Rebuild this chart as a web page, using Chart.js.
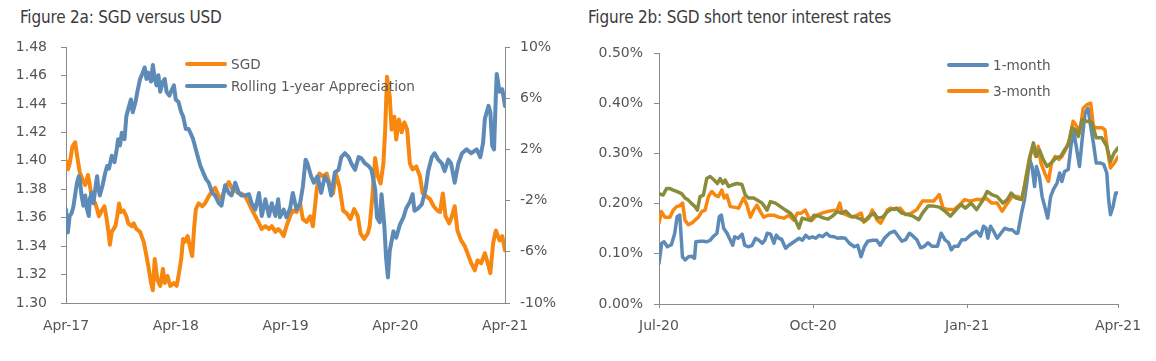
<!DOCTYPE html>
<html>
<head>
<meta charset="utf-8">
<script src="https://cdn.jsdelivr.net/npm/chart.js@4.4.1/dist/chart.umd.min.js"></script>
<style>
  body { margin: 0; background: #fff; width: 1156px; height: 361px; overflow: hidden; position: relative; }
  .title { position: absolute; top: 7px; font: 17px "Liberation Sans Narrow", "DejaVu Sans Condensed", sans-serif; letter-spacing: -0.2px; color: #3c3c3c; white-space: nowrap; }
  .box { position: absolute; top: 0; height: 361px; }
  .legend { position: absolute; font: 13.6px "DejaVu Sans", sans-serif; color: #595959; }
  .legend .row { display: flex; align-items: center; white-space: nowrap; }
  .legend .line { display: inline-block; width: 42px; height: 4px; border-radius: 2px; margin-right: 4px; }
</style>
</head>
<body>
<div class="title" style="left:20px">Figure 2a: SGD versus USD</div>
<div class="title" style="left:588px">Figure 2b: SGD short tenor interest rates</div>
<div class="box" style="left:0;width:560px"><canvas id="chartA"></canvas></div>
<div class="box" style="left:578px;width:578px"><canvas id="chartB"></canvas></div>
<div class="legend" id="legendA" style="left:185px;top:53px"></div>
<div class="legend" id="legendB" style="left:947px;top:52px"></div>

<script>
// ---- Figure 2a: SGD versus USD (x = months since Apr-17) ----
const xLabelsA = ['Apr-17', 'Apr-18', 'Apr-19', 'Apr-20', 'Apr-21'];
const xTicksA = [0, 12, 24, 36, 48];
const sgdTicks = [1.30, 1.32, 1.34, 1.36, 1.38, 1.40, 1.42, 1.44, 1.46, 1.48];
const apprTicks = [-10, -6, -2, 2, 6, 10];

const sgdMonths = [0, 0.2, 0.4, 0.7, 1.0, 1.2, 1.5, 1.8, 2.1, 2.4, 2.6, 2.8, 3.2, 3.4, 3.6, 3.9, 4.2, 4.4, 4.6, 4.8,
  5.0, 5.4, 5.6, 5.8, 6.0, 6.3, 6.6, 6.8, 7.2, 7.4, 7.7, 8.1, 8.5, 8.8, 9.0, 9.3, 9.5, 9.7, 10.0, 10.3,
  10.6, 10.8, 11.1, 11.4, 11.8, 12.1, 12.3, 12.6, 12.8, 13.0, 13.3, 13.6, 13.8, 14.0, 14.2, 14.5, 14.9, 15.2, 15.6, 16.0,
  16.3, 16.7, 17.0, 17.4, 17.8, 18.1, 18.5, 18.9, 19.2, 19.6, 20.0, 20.3, 20.7, 21.1, 21.4, 21.8, 22.2, 22.5, 22.9, 23.2,
  23.4, 23.8, 24.1, 24.5, 24.8, 25.2, 25.6, 25.9, 26.3, 26.7, 27.0, 27.4, 27.7, 28.1, 28.5, 28.8, 29.2, 29.5, 29.9, 30.3,
  30.7, 31.1, 31.5, 31.9, 32.2, 32.6, 33.0, 33.2, 33.5, 33.8, 34.1, 34.4, 34.7, 34.9, 35.1, 35.4, 35.6, 35.9, 36.1, 36.4,
  36.7, 37.0, 37.3, 37.6, 37.9, 38.3, 38.7, 39.0, 39.4, 39.8, 40.2, 40.6, 40.9, 41.2, 41.5, 41.9, 42.2, 42.5, 42.8, 43.2,
  43.6, 43.9, 44.3, 44.7, 45.0, 45.4, 45.8, 46.2, 46.4, 46.7, 47.0, 47.4, 47.7, 48.0];
const sgdValues = [1.400, 1.394, 1.398, 1.410, 1.413, 1.404, 1.392, 1.387, 1.383, 1.390, 1.383, 1.375, 1.370, 1.366, 1.361, 1.365, 1.368, 1.361, 1.352, 1.341,
  1.350, 1.354, 1.361, 1.370, 1.364, 1.365, 1.361, 1.356, 1.354, 1.356, 1.352, 1.350, 1.343, 1.333, 1.326, 1.314, 1.309, 1.331, 1.316, 1.312,
  1.324, 1.314, 1.319, 1.312, 1.314, 1.312, 1.319, 1.331, 1.345, 1.343, 1.347, 1.338, 1.333, 1.352, 1.366, 1.370, 1.368, 1.370, 1.375, 1.379,
  1.381, 1.375, 1.373, 1.381, 1.385, 1.381, 1.379, 1.377, 1.377, 1.375, 1.370, 1.366, 1.361, 1.356, 1.352, 1.354, 1.352, 1.354, 1.350, 1.352,
  1.351, 1.347, 1.354, 1.361, 1.365, 1.364, 1.370, 1.359, 1.357, 1.361, 1.354, 1.379, 1.391, 1.389, 1.391, 1.384, 1.377, 1.391, 1.382, 1.365,
  1.363, 1.359, 1.366, 1.361, 1.349, 1.345, 1.349, 1.354, 1.375, 1.402, 1.389, 1.384, 1.398, 1.422, 1.459, 1.445, 1.422, 1.431, 1.415, 1.429,
  1.420, 1.427, 1.422, 1.398, 1.394, 1.396, 1.389, 1.377, 1.375, 1.373, 1.368, 1.365, 1.364, 1.377, 1.361, 1.356, 1.361, 1.368, 1.351, 1.344,
  1.340, 1.335, 1.328, 1.323, 1.330, 1.328, 1.335, 1.326, 1.321, 1.342, 1.351, 1.344, 1.347, 1.337];

const apprMonths = [0, 0.2, 0.4, 0.6, 0.8, 1.2, 1.4, 1.5, 1.7, 1.9, 2.1, 2.3, 2.5, 2.6, 2.8, 3.0, 3.2, 3.4, 3.5, 3.7,
  4.0, 4.3, 4.5, 4.7, 5.0, 5.3, 5.5, 5.7, 5.9, 6.1, 6.4, 6.6, 6.9, 7.1, 7.3, 7.6, 7.8, 8.1, 8.4, 8.6,
  8.8, 9.0, 9.3, 9.5, 9.7, 9.9, 10.1, 10.3, 10.6, 10.8, 11.0, 11.3, 11.6, 11.8, 12.0, 12.3, 12.6, 12.8, 13.1, 13.4,
  13.6, 13.9, 14.2, 14.5, 14.7, 15.0, 15.3, 15.6, 16.0, 16.3, 16.7, 17.0, 17.4, 17.8, 18.1, 18.5, 18.9, 19.2, 19.6, 20.0,
  20.3, 20.7, 21.1, 21.4, 21.8, 22.2, 22.5, 22.9, 23.2, 23.4, 23.8, 24.1, 24.5, 24.8, 25.2, 25.6, 25.9, 26.2, 26.4, 26.8,
  27.1, 27.5, 27.9, 28.3, 28.7, 29.0, 29.4, 29.8, 30.1, 30.5, 30.9, 31.2, 31.6, 32.0, 32.3, 32.7, 33.1, 33.4, 33.8, 34.0,
  34.3, 34.5, 34.8, 35.0, 35.2, 35.4, 35.8, 36.1, 36.5, 36.9, 37.2, 37.6, 37.9, 38.1, 38.5, 38.9, 39.3, 39.6, 40.0, 40.3,
  40.7, 41.1, 41.4, 41.8, 42.1, 42.5, 42.9, 43.3, 43.8, 44.3, 44.9, 45.3, 45.6, 45.8, 46.2, 46.4, 46.6, 46.8, 47.0, 47.1,
  47.4, 47.7, 48.0];
const apprValues = [-2.7, -4.5, -3.2, -3.0, -2.5, -0.6, -0.1, -0.3, -1.6, -2.4, -1.6, -2.7, -3.2, -1.9, -1.4, -2.2, -1.1, -0.1, -0.8, -1.6,
  -0.8, 0.2, 0.7, 0.5, 1.5, 1.0, 1.8, 2.8, 2.3, 3.3, 2.8, 4.6, 5.4, 5.9, 4.9, 5.7, 6.5, 7.5, 8.0, 8.4,
  7.5, 8.0, 7.3, 8.6, 7.5, 7.0, 7.8, 6.5, 7.3, 7.5, 6.5, 6.2, 6.7, 7.0, 5.9, 5.7, 4.9, 4.6, 3.6, 3.6,
  3.3, 2.8, 2.0, 1.2, 0.7, 0.2, -0.3, -0.6, -1.4, -1.6, -2.2, -2.4, -0.8, -1.4, -1.6, -0.6, -1.4, -1.6, -1.6, -1.5,
  -2.2, -2.7, -1.4, -3.2, -1.9, -3.2, -2.2, -3.2, -1.9, -3.3, -2.7, -3.3, -2.6, -1.4, -2.7, -2.2, -0.9, 1.2, 0.9, -0.1,
  -0.6, -0.1, -1.4, -0.1, -0.6, -1.6, 0.2, 0.4, 1.4, 1.7, 1.4, 0.9, 0.4, 1.4, 1.3, 0.9, 0.7, 0.4, -1.1, -3.3,
  -3.7, -1.5, -3.9, -6.5, -8.0, -5.9, -4.4, -4.9, -3.9, -3.3, -2.6, -2.1, -1.5, -2.8, -2.6, -2.3, -1.2, 0.3, 1.4, 1.7,
  1.2, 0.9, 0.3, 1.2, 0.9, -0.6, 0.9, 1.7, 2.0, 1.7, 2.0, 1.4, 2.5, 4.4, 5.4, 4.9, 2.3, 2.0, 6.2, 7.9,
  6.5, 6.7, 5.4];

// ---- Figure 2b: SGD short tenor interest rates (x = days since 1 Jul 2020) ----
const xLabelsB = ['Jul-20', 'Oct-20', 'Jan-21', 'Apr-21'];
const xTicksB = [0, 92, 184, 274];
const rateTicks = [0, 0.1, 0.2, 0.3, 0.4, 0.5];

const m1Days = [0, 1.6, 3, 5, 7.4, 9.4, 10.8, 12.4, 14, 15.6, 17.6, 19.6, 21.2, 22, 24.6, 26.6, 28.6, 30.6, 32.6, 34.6,
  36, 37.2, 38.6, 40.6, 42.6, 44, 45.2, 47.2, 49.6, 51.2, 53.2, 55.6, 57.6, 59.6, 61.6, 63.2, 64.6, 66.6, 68.6, 70,
  71.6, 73.2, 75.6, 77.6, 80.6, 83.6, 85.6, 87.6, 89.6, 91.6, 93.6, 95.6, 97.6, 100, 102, 104.6, 106.6, 108.6, 111.2, 113.6,
  116.6, 118.6, 120.6, 122.6, 124.6, 127.6, 130, 132, 134.6, 137.6, 140.6, 142.8, 145, 147.2, 149.5, 151.7, 153.9, 156.2, 158.4, 160.6,
  162.9, 166.2, 168.4, 170.7, 172.9, 174.5, 176.2, 178.5, 180.7, 182.9, 185.2, 187.4, 189.6, 191.9, 193.7, 195.2, 196.3, 197.9, 199.7, 201.9,
  204.1, 206.4, 208.6, 210.8, 213.1, 214.2, 216.4, 218.2, 219.8, 221.3, 222.7, 224.2, 225.3, 227.1, 228.7, 230.2, 232, 233.8, 235.4, 237.6,
  239.2, 240.5, 242.1, 244.3, 245.9, 247.6, 249.4, 251, 252.6, 254.3, 256.1, 257.7, 259.3, 261, 263.3, 265.5, 267.3, 268.4, 269.5, 271.1,
  272.6, 274];
const m1Values = [0.081, 0.121, 0.124, 0.114, 0.118, 0.141, 0.174, 0.177, 0.094, 0.088, 0.094, 0.095, 0.091, 0.124, 0.125, 0.125, 0.124, 0.127, 0.135, 0.141,
  0.174, 0.177, 0.151, 0.141, 0.127, 0.117, 0.134, 0.131, 0.139, 0.117, 0.114, 0.117, 0.131, 0.127, 0.121, 0.127, 0.141, 0.139, 0.121, 0.137,
  0.131, 0.129, 0.111, 0.117, 0.124, 0.131, 0.127, 0.137, 0.131, 0.134, 0.131, 0.137, 0.134, 0.141, 0.135, 0.134, 0.131, 0.132, 0.131, 0.121,
  0.114, 0.117, 0.094, 0.114, 0.125, 0.127, 0.127, 0.117, 0.131, 0.141, 0.145, 0.135, 0.125, 0.128, 0.141, 0.135, 0.128, 0.112, 0.115, 0.122,
  0.115, 0.115, 0.141, 0.128, 0.122, 0.108, 0.115, 0.115, 0.128, 0.128, 0.135, 0.141, 0.145, 0.135, 0.155, 0.151, 0.131, 0.155, 0.145, 0.131,
  0.141, 0.151, 0.148, 0.148, 0.141, 0.141, 0.181, 0.208, 0.248, 0.288, 0.274, 0.234, 0.274, 0.254, 0.214, 0.195, 0.171, 0.214, 0.228, 0.241,
  0.261, 0.244, 0.264, 0.268, 0.314, 0.344, 0.307, 0.274, 0.327, 0.380, 0.390, 0.354, 0.321, 0.281, 0.281, 0.278, 0.261, 0.208, 0.178, 0.195,
  0.221, 0.221];

const m3Days = [0, 1.5, 3.5, 6.5, 8.5, 10.5, 12.5, 14.1, 15.5, 17.5, 19.5, 21.5, 23.5, 25.5, 27.5, 29.5, 31.5, 33.5, 35.5, 37.5,
  38.9, 40.5, 42.5, 44.5, 47.5, 50.5, 52.5, 54.5, 56.5, 58.5, 60.5, 62.5, 65.5, 68.5, 71.5, 74.5, 77.5, 80.5, 82.5, 84.9,
  87.3, 89.3, 91.3, 94.3, 97.3, 100.3, 103.3, 106.3, 107.9, 109.3, 112.3, 115.3, 118.3, 120.7, 122.3, 125.3, 127.3, 130.3, 132.3, 134.3,
  136.3, 138.3, 140.6, 143.9, 147.2, 150.6, 153.9, 157.3, 160.6, 164, 167.3, 169.6, 172.9, 176.2, 179.6, 182.5, 185.6, 189.2, 191.9, 195.2,
  198.6, 201.9, 204.8, 207.5, 210.8, 214.2, 216.9, 219.1, 221.3, 223.1, 224.9, 226.4, 228, 230.2, 232.5, 234.3, 236.5, 238.7, 240.5, 242.7,
  245, 247.2, 249.4, 251.2, 253.2, 255.4, 257.7, 259.3, 261, 264.4, 266.2, 267.7, 269.5, 271.7, 274];
const m3Values = [0.161, 0.184, 0.173, 0.173, 0.187, 0.194, 0.196, 0.201, 0.167, 0.158, 0.161, 0.167, 0.173, 0.184, 0.187, 0.214, 0.224, 0.217, 0.214, 0.227,
  0.211, 0.217, 0.194, 0.193, 0.191, 0.211, 0.197, 0.173, 0.187, 0.197, 0.184, 0.173, 0.177, 0.177, 0.173, 0.171, 0.177, 0.167, 0.181, 0.181,
  0.187, 0.173, 0.167, 0.177, 0.181, 0.184, 0.186, 0.187, 0.201, 0.181, 0.177, 0.173, 0.177, 0.181, 0.163, 0.171, 0.187, 0.167, 0.161, 0.173,
  0.187, 0.191, 0.188, 0.191, 0.178, 0.181, 0.188, 0.205, 0.205, 0.205, 0.218, 0.191, 0.188, 0.188, 0.198, 0.208, 0.205, 0.208, 0.208, 0.211,
  0.201, 0.201, 0.185, 0.198, 0.214, 0.214, 0.208, 0.254, 0.294, 0.311, 0.294, 0.314, 0.281, 0.261, 0.244, 0.281, 0.294, 0.288, 0.294, 0.307,
  0.327, 0.364, 0.354, 0.341, 0.390, 0.397, 0.400, 0.354, 0.351, 0.351, 0.347, 0.307, 0.271, 0.281, 0.293];

const m6Days = [0, 2.5, 4.5, 6.5, 8.5, 10.9, 13.5, 15.5, 17.5, 19.5, 21.5, 22.9, 24.5, 26.5, 28.5, 30.5, 32.9, 34.9, 36.5, 38.1,
  39.5, 41.5, 43.5, 46.5, 49.5, 51.5, 53.5, 56.5, 58.5, 61.5, 64.5, 66.5, 69.5, 72.5, 75.5, 78.5, 81.5, 83.5, 85.5, 87.5,
  90.5, 92.5, 95.5, 98.5, 100.9, 103.5, 106.5, 108.9, 111.5, 114.5, 117.5, 120.5, 122.5, 125.5, 128.5, 130.5, 133.5, 136.5, 138.3, 141.7,
  145, 148.4, 151.7, 155.1, 157.3, 160.6, 164, 167.3, 170.7, 174, 177.4, 180.3, 182.9, 186.3, 189.6, 193, 195.9, 198.6, 201.9, 205.3,
  207.9, 210.2, 213.1, 216.4, 218.6, 220.4, 222, 223.5, 225.3, 227.1, 229.3, 231.6, 234.3, 236.9, 239.8, 242.1, 244.3, 246.5, 248.8, 250.3,
  252.5, 255.4, 258.3, 261, 264.4, 267.3, 269.5, 271.7, 274];
const m6Values = [0.220, 0.217, 0.230, 0.230, 0.227, 0.224, 0.220, 0.211, 0.207, 0.200, 0.194, 0.187, 0.214, 0.217, 0.250, 0.254, 0.247, 0.240, 0.250, 0.240,
  0.247, 0.234, 0.237, 0.240, 0.238, 0.217, 0.211, 0.211, 0.207, 0.201, 0.187, 0.204, 0.201, 0.194, 0.187, 0.181, 0.167, 0.151, 0.171, 0.169,
  0.166, 0.177, 0.175, 0.171, 0.169, 0.175, 0.184, 0.181, 0.185, 0.175, 0.173, 0.169, 0.165, 0.175, 0.181, 0.171, 0.173, 0.184, 0.188, 0.191,
  0.181, 0.178, 0.175, 0.168, 0.181, 0.195, 0.195, 0.193, 0.185, 0.175, 0.188, 0.198, 0.191, 0.201, 0.188, 0.205, 0.224, 0.218, 0.214, 0.201,
  0.208, 0.221, 0.211, 0.208, 0.241, 0.274, 0.301, 0.321, 0.294, 0.307, 0.288, 0.274, 0.281, 0.291, 0.294, 0.307, 0.317, 0.351, 0.347, 0.334,
  0.367, 0.364, 0.362, 0.331, 0.331, 0.314, 0.284, 0.301, 0.311];

// couleurs et styles
const orange = '#F7870F';
const blue = '#5D8AB6';
const olive = '#898C3B';
const axisColor = '#8a8a8a';
const tickColor = '#555555';
const tickFont = { family: 'DejaVu Sans', size: 14 };

function points(xs, ys) {
  return xs.map((x, i) => ({ x: x, y: ys[i] }));
}

function fixedTicks(values) {
  return scale => { scale.ticks = values.map(v => ({ value: v })); };
}

function lineSet(label, xs, ys, color, width, order, axis) {
  return {
    label: label,
    data: points(xs, ys),
    borderColor: color,
    backgroundColor: color,
    borderWidth: width,
    pointRadius: 0,
    tension: 0,
    borderJoinStyle: 'round',
    borderCapStyle: 'round',
    order: order,
    yAxisID: axis
  };
}

function makeLegend(id, items, rowHeight) {
  const box = document.getElementById(id);
  items.forEach(it => {
    const row = document.createElement('div');
    row.className = 'row';
    row.style.height = rowHeight + 'px';
    row.innerHTML = '<span class="line" style="background:' + it.borderColor + '"></span>' + it.label;
    box.appendChild(row);
  });
}

Chart.defaults.animation = false;
Chart.defaults.responsive = true;
Chart.defaults.maintainAspectRatio = false;
Chart.defaults.devicePixelRatio = 1;
Chart.defaults.plugins.legend.display = false;
Chart.defaults.plugins.tooltip.enabled = false;

// Graphique 2a
const dsA = [
  lineSet('SGD', sgdMonths, sgdValues, orange, 4, 1, 'y'),
  lineSet('Rolling 1-year Appreciation', apprMonths, apprValues, blue, 4, 0, 'y1')
];
new Chart(document.getElementById('chartA'), {
  type: 'line',
  data: { datasets: dsA },
  options: {
    layout: { padding: { top: 47, left: 0, right: 0, bottom: 0 } },
    scales: {
      x: {
        type: 'linear', min: 0, max: 48,
        afterBuildTicks: fixedTicks(xTicksA),
        afterFit: s => { s.height = 58; },
        ticks: { callback: (v, i) => xLabelsA[i], font: tickFont, color: tickColor, padding: 15, maxRotation: 0, autoSkip: false },
        grid: { drawOnChartArea: false, drawTicks: false },
        border: { color: axisColor }
      },
      y: {
        position: 'left', min: 1.30, max: 1.48,
        afterBuildTicks: fixedTicks(sgdTicks),
        afterFit: s => { s.width = 66; },
        ticks: { callback: v => v.toFixed(2), font: tickFont, color: tickColor, padding: 14 },
        grid: { drawOnChartArea: false, tickLength: 5, color: axisColor },
        border: { color: axisColor }
      },
      y1: {
        position: 'right', min: -10, max: 10,
        afterBuildTicks: fixedTicks(apprTicks),
        afterFit: s => { s.width = 55; },
        ticks: { callback: v => v + '%', font: tickFont, color: tickColor, padding: 10 },
        grid: { drawOnChartArea: false, tickLength: 5, color: axisColor },
        border: { color: axisColor }
      }
    }
  }
});
makeLegend('legendA', dsA, 22);

// Graphique 2b
const dsB = [
  lineSet('1-month', m1Days, m1Values, blue, 3.5, 2, 'y'),
  lineSet('3-month', m3Days, m3Values, orange, 3.5, 1, 'y'),
  lineSet('6-month', m6Days, m6Values, olive, 3.5, 0, 'y')
];
new Chart(document.getElementById('chartB'), {
  type: 'line',
  data: { datasets: dsB },
  options: {
    layout: { padding: { top: 53, left: 0, right: 38, bottom: 0 } },
    scales: {
      x: {
        type: 'linear', min: 0, max: 274,
        afterBuildTicks: fixedTicks(xTicksB),
        afterFit: s => { s.height = 57; },
        ticks: { callback: (v, i) => xLabelsB[i], font: tickFont, color: tickColor, padding: 10, maxRotation: 0, autoSkip: false },
        grid: { drawOnChartArea: false, tickLength: 4, color: axisColor },
        border: { color: axisColor }
      },
      y: {
        position: 'left', min: 0, max: 0.5,
        afterBuildTicks: fixedTicks(rateTicks),
        afterFit: s => { s.width = 81; },
        ticks: { callback: v => v.toFixed(2) + '%', font: tickFont, color: tickColor, padding: 11 },
        grid: { drawOnChartArea: false, tickLength: 5, color: axisColor },
        border: { color: axisColor }
      }
    }
  }
});
makeLegend('legendB', dsB.slice(0, 2), 26);
</script>
</body>
</html>
